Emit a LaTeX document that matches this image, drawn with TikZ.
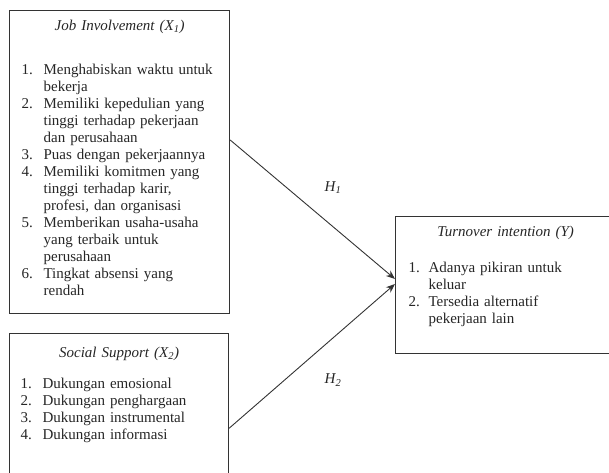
\documentclass[tikz,border=0pt]{standalone}
\usepackage{fontspec}
\setmainfont{Liberation Serif}
\usetikzlibrary{arrows.meta, positioning}

% numbered item with hanging indent
\newcommand{\itm}[3][22pt]{{\hangindent=#1\hangafter=1\noindent\makebox[#1][l]{#2}#3\par}}
\newcommand{\ttl}[1]{\makebox[\linewidth]{\itshape #1}\par}

\begin{document}
\begin{tikzpicture}[x=1pt, y=-1pt, box/.style={draw=black!80, line width=1.2pt, rectangle, anchor=north west, inner ysep=0pt, font=\fontsize{15}{17}\selectfont, text=black!85}, lbl/.style={font=\fontsize{15}{17}\selectfont\itshape, text=black!85}, >={Stealth[length=9pt, width=7pt]}]
	\useasboundingbox (0,0) rectangle (609,472);
	\clip (0,0) rectangle (609,472);

	% Variables
	\node[box, inner xsep=12pt, text width=196pt, text height=20pt, text depth=283pt] (job) at (9,10) {\raggedright
		\ttl{Job Involvement (X\textsubscript{1})}\vspace{27pt}
		\itm{1.}{Menghabiskan waktu untuk\newline bekerja}
		\itm{2.}{Memiliki kepedulian yang\newline tinggi terhadap pekerjaan\newline dan perusahaan}
		\itm{3.}{Puas dengan pekerjaannya}
		\itm{4.}{Memiliki komitmen yang\newline tinggi terhadap karir,\newline profesi, dan organisasi}
		\itm{5.}{Memberikan usaha-usaha\newline yang terbaik untuk\newline perusahaan}
		\itm{6.}{Tingkat absensi yang\newline rendah}};
	\node[box, below right=19pt and 0pt of job.south west, inner xsep=11pt, text width=197pt, text height=24pt, text depth=144pt] (social) {\raggedright
		\ttl{Social Support (X\textsubscript{2})}\vspace{14pt}
		\itm{1.}{Dukungan emosional}
		\itm{2.}{Dukungan penghargaan}
		\itm{3.}{Dukungan instrumental}
		\itm{4.}{Dukungan informasi}};
	\node[box, inner xsep=13pt, text width=194pt, text height=20pt, text depth=117pt] (turnover) at (395,216) {\raggedright
		\ttl{Turnover intention (Y)}\vspace{19pt}
		\itm[20pt]{1.}{Adanya pikiran untuk\newline keluar}
		\itm[20pt]{2.}{Tersedia alternatif\newline pekerjaan lain}};

	% Hypotheses
	\coordinate (h1from) at ([yshift=-130pt]job.north east);
	\coordinate (h1to) at ([yshift=-63pt]turnover.north west);
	\coordinate (h2from) at ([yshift=-95pt]social.north east);
	\coordinate (h2to) at ([yshift=-68pt]turnover.north west);
	\draw[->, line width=0.9pt, black!80] (h1from) -- (h1to);
	\draw[->, line width=0.9pt, black!80] (h2from) -- (h2to);
	\node[lbl] (h1) at (333,188) {H\textsubscript{1}};
	\node[lbl] (h2) at (333,380) {H\textsubscript{2}};
\end{tikzpicture}
\end{document}
